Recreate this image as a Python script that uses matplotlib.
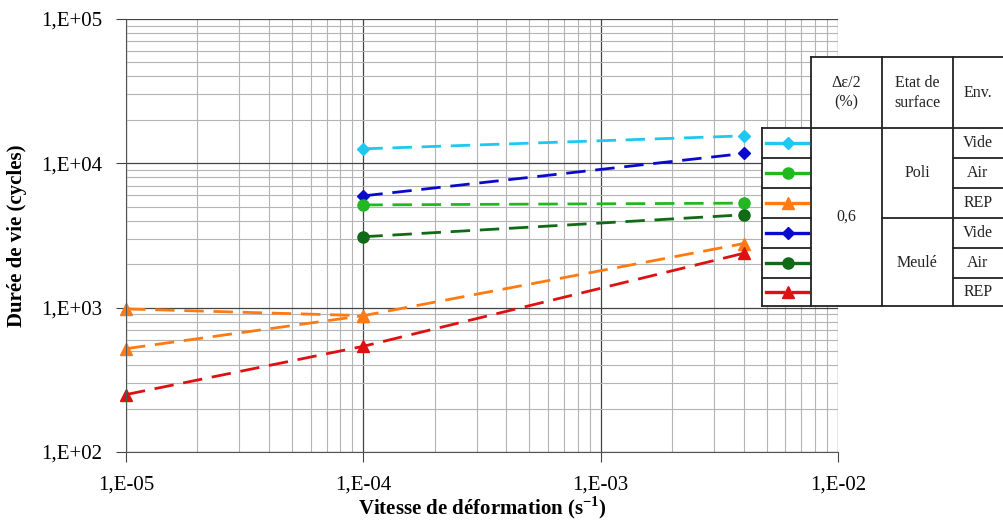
import matplotlib
matplotlib.use("Agg")
import matplotlib.pyplot as plt
from matplotlib.lines import Line2D
from matplotlib.patches import Rectangle
from matplotlib.ticker import LogLocator, FixedLocator, NullFormatter

plt.rcParams["font.family"] = ["Liberation Serif", "DejaVu Serif"]

# strain rate (s-1) and fatigue life (cycles)
RATE_3 = [1e-4, 4e-3]
POLI_VIDE = [12600, 15500]
MEULE_VIDE = [5950, 11700]
POLI_AIR = [5150, 5300]
MEULE_AIR = [3100, 4400]
POLI_REP_A_X = [1e-5, 1e-4, 4e-3]
POLI_REP_A = [980, 880, 2780]
POLI_REP_B_X = [1e-5, 1e-4]
POLI_REP_B = [520, 880]
MEULE_REP_X = [1e-5, 1e-4, 4e-3]
MEULE_REP = [250, 540, 2380]

X_TICKS = [1e-5, 1e-4, 1e-3, 1e-2]
X_LABELS = ["1,E-05", "1,E-04", "1,E-03", "1,E-02"]
Y_TICKS = [1e2, 1e3, 1e4, 1e5]
Y_LABELS = ["1,E+02", "1,E+03", "1,E+04", "1,E+05"]

C_CYAN = "#1ec8f0"
C_BLUE = "#0a0acc"
C_LGREEN = "#22b822"
C_DGREEN = "#116a16"
C_ORANGE = "#ff7a12"
C_RED = "#dd1111"

W, H = 1004, 527
fig = plt.figure(figsize=(W / 100, H / 100), dpi=100)
ax = fig.add_axes([126 / W, 1 - 452 / H, (838 - 126) / W, (452 - 19) / H])
ax.set_xscale("log")
ax.set_yscale("log")
ax.set_xlim(1e-5, 1e-2)
ax.set_ylim(1e2, 1e5)

dash = (0, (7, 3.5))
base = dict(linestyle=dash, linewidth=2.0, clip_on=False)
ax.plot(RATE_3, POLI_VIDE, color=C_CYAN, marker="D", markersize=6.5, **base)
ax.plot(RATE_3, MEULE_VIDE, color=C_BLUE, marker="D", markersize=6.5, **base)
ax.plot(RATE_3, POLI_AIR, color=C_LGREEN, marker="o", markersize=8, **base)
ax.plot(RATE_3, MEULE_AIR, color=C_DGREEN, marker="o", markersize=8, **base)
ax.plot(POLI_REP_A_X, POLI_REP_A, color=C_ORANGE, marker="^", markersize=8, **base)
ax.plot(POLI_REP_B_X, POLI_REP_B, color=C_ORANGE, marker="^", markersize=8, **base)
ax.plot(MEULE_REP_X, MEULE_REP, color=C_RED, marker="^", markersize=8, **base)

ax.xaxis.set_major_locator(FixedLocator(X_TICKS))
ax.set_xticklabels(X_LABELS)
ax.yaxis.set_major_locator(FixedLocator(Y_TICKS))
ax.set_yticklabels(Y_LABELS)
ax.xaxis.set_minor_locator(LogLocator(base=10, subs=range(2, 10)))
ax.yaxis.set_minor_locator(LogLocator(base=10, subs=range(2, 10)))
ax.xaxis.set_minor_formatter(NullFormatter())
ax.yaxis.set_minor_formatter(NullFormatter())
ax.grid(True, which="major", color="#444444", linewidth=0.9)
ax.grid(True, which="minor", color="#b4b4b4", linewidth=0.8)
ax.set_axisbelow(True)
for s in ["top", "right"]:
    ax.spines[s].set_visible(False)
for s in ["left", "bottom"]:
    ax.spines[s].set_color("#555555")
ax.tick_params(which="major", direction="out", length=7, color="#444444",
               labelsize=15, pad=10)
ax.tick_params(which="minor", length=0)

ax.set_xlabel("Vitesse de déformation (s$^{\\mathregular{-1}}$)", fontsize=15,
              fontweight="bold", labelpad=0)
ax.set_ylabel("Durée de vie (cycles)", fontsize=15, fontweight="bold", labelpad=10)


# legend table drawn in figure pixels
def fx(x):
    return x / W


def fy(y):
    return 1 - y / H


def hline(x0, x1, y):
    fig.add_artist(Line2D([fx(x0), fx(x1)], [fy(y), fy(y)], color="#222222",
                          lw=1.3, zorder=6))


def vline(x, y0, y1):
    fig.add_artist(Line2D([fx(x), fx(x)], [fy(y0), fy(y1)], color="#222222",
                          lw=1.3, zorder=6))


fig.add_artist(Rectangle((fx(811), fy(128)), fx(1004 - 811), fy(57) - fy(128),
                         facecolor="white", edgecolor="none", zorder=5))
fig.add_artist(Rectangle((fx(762), fy(306)), fx(1004 - 762), fy(128) - fy(306),
                         facecolor="white", edgecolor="none", zorder=5))

rows = [128, 158, 188, 218, 248, 278, 306]
hline(811, 1004, 57)
hline(762, 1004, 128)
for y in rows[1:-1]:
    hline(762, 811, y)
    hline(953, 1004, y)
hline(882, 953, 218)
hline(762, 1004, 306)
vline(762, 128, 306)
vline(811, 57, 306)
vline(882, 57, 306)
vline(953, 57, 306)

tkw = dict(fontsize=11.5, ha="center", va="center", color="#222222", zorder=7)
fig.text(fx(846), fy(93), "Δε/2\n(%)", linespacing=1.3, **tkw)
fig.text(fx(917), fy(93), "Etat de\nsurface", linespacing=1.3, **tkw)
fig.text(fx(978), fy(93), "Env.", **tkw)
fig.text(fx(846), fy(217), "0,6", **tkw)
fig.text(fx(917), fy(173), "Poli", **tkw)
fig.text(fx(917), fy(263), "Meulé", **tkw)
envs = ["Vide", "Air", "REP", "Vide", "Air", "REP"]
for i, e in enumerate(envs):
    fig.text(fx(978), fy((rows[i] + rows[i + 1]) / 2), e, **tkw)

samples = [(C_CYAN, "D", 6), (C_LGREEN, "o", 8), (C_ORANGE, "^", 8),
           (C_BLUE, "D", 6), (C_DGREEN, "o", 8), (C_RED, "^", 8)]
for i, (c, m, ms) in enumerate(samples):
    yc = fy((rows[i] + rows[i + 1]) / 2)
    fig.add_artist(Line2D([fx(766), fx(783)], [yc, yc], color=c, lw=2.4, zorder=7))
    fig.add_artist(Line2D([fx(793), fx(808)], [yc, yc], color=c, lw=2.4, zorder=7))
    fig.add_artist(Line2D([fx(788)], [yc], color=c, marker=m, markersize=ms,
                          linestyle="none", zorder=7))

fig.savefig("out.png", dpi=100)
